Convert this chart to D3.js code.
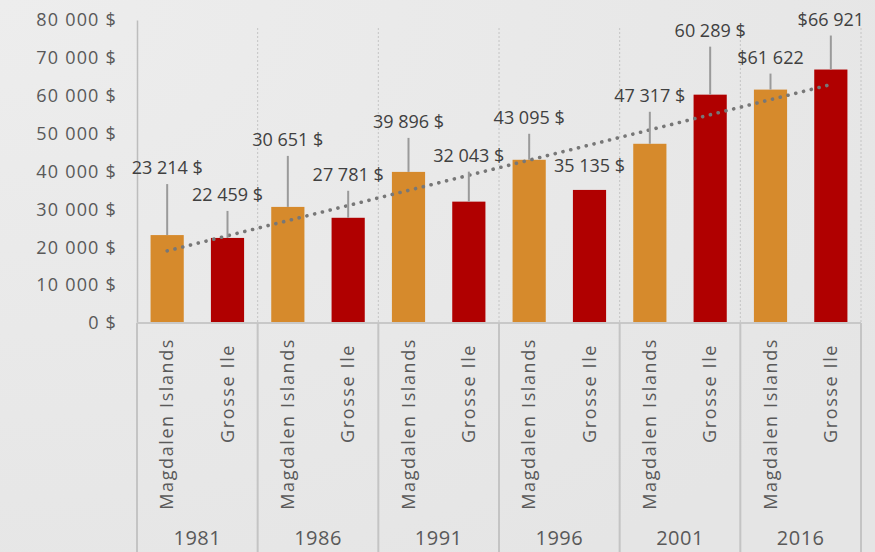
<!DOCTYPE html>
<html>
<head>
<meta charset="utf-8">
<script src="https://cdn.jsdelivr.net/npm/d3@7"></script>
<style>
  html, body { margin: 0; padding: 0; }
  body { width: 875px; height: 552px; overflow: hidden; background: #e8e8e8; }
  text { font-family: "Open Sans", sans-serif; }
</style>
</head>
<body>
<svg id="chart" width="875" height="552"></svg>
<script>
// data
const years = ["1981", "1986", "1991", "1996", "2001", "2016"];
const places = ["Magdalen Islands", "Grosse Ile"];
const magdalen = [23214, 30651, 39896, 43095, 47317, 61622];
const grosseIle = [22459, 27781, 32043, 35135, 60289, 66921];
const magdalenLabels = ["23 214 $", "30 651 $", "39 896 $", "43 095 $", "47 317 $", "$61 622"];
const grosseLabels = ["22 459 $", "27 781 $", "32 043 $", "35 135 $", "60 289 $", "$66 921"];
const yTicks = [0, 10000, 20000, 30000, 40000, 50000, 60000, 70000, 80000];

// callout lift above each bar (px), as placed in the original
const magdalenLift = [67, 67, 50, 42, 48, 32];
const grosseLift = [43, 43, 46, 24, 64, 50];

const ORANGE = "#d68a2c";
const RED = "#b00000";

const width = 875, height = 552;
const margin = {top: 20, left: 137, right: 14, bottom: 229};
const plotW = width - margin.left - margin.right;
const plotH = height - margin.top - margin.bottom;

const svg = d3.select("#chart");

// background, slightly lighter at the top left
const defs = svg.append("defs");
const grad = defs.append("radialGradient").attr("id", "bg")
    .attr("cx", "0%").attr("cy", "0%").attr("r", "120%");
grad.append("stop").attr("offset", "0%").attr("stop-color", "#ededed");
grad.append("stop").attr("offset", "100%").attr("stop-color", "#e5e5e5");
svg.append("rect").attr("width", width).attr("height", height).attr("fill", "url(#bg)");

// flat list of bars: year group, then the two places
let bars = [];
years.forEach(function(yr, i) {
    bars.push({year: yr, place: places[0], value: magdalen[i], label: magdalenLabels[i], lift: magdalenLift[i], color: ORANGE});
    bars.push({year: yr, place: places[1], value: grosseIle[i], label: grosseLabels[i], lift: grosseLift[i], color: RED});
});

const x0 = d3.scaleBand().domain(years).range([0, plotW]);
const x1 = d3.scaleBand().domain(places).range([0, x0.bandwidth()]).paddingInner(0.45).paddingOuter(0.225);
const y = d3.scaleLinear().domain([0, 80000]).range([plotH, 0]);

const g = svg.append("g").attr("transform", "translate(" + margin.left + "," + margin.top + ")");

// dotted vertical separators between year groups
g.append("g").selectAll("line")
    .data(years.slice(1).concat(["end"]))
    .enter().append("line")
    .attr("x1", d => d === "end" ? plotW : x0(d))
    .attr("x2", d => d === "end" ? plotW : x0(d))
    .attr("y1", 8).attr("y2", plotH)
    .attr("stroke", "#c4c4c4").attr("stroke-width", 1)
    .attr("stroke-dasharray", "2 2");

// y axis
const yAxis = g.append("g").call(d3.axisLeft(y).tickValues(yTicks).tickSize(0).tickPadding(20)
    .tickFormat(d => d3.format(",")(d).replace(/,/g, " ") + " $"));
yAxis.select(".domain").attr("stroke", "#bdbdbd").attr("stroke-width", 1.5);
yAxis.selectAll("text").attr("fill", "#595959").style("font-size", "18px").style("letter-spacing", "1.2px");

// bars
g.append("g").selectAll("rect")
    .data(bars)
    .enter().append("rect")
    .attr("x", d => x0(d.year) + x1(d.place))
    .attr("width", x1.bandwidth())
    .attr("y", d => y(d.value))
    .attr("height", d => plotH - y(d.value))
    .attr("fill", d => d.color);

// linear trendline over the twelve bars
const n = bars.length;
const mx = d3.mean(bars, (d, i) => i);
const my = d3.mean(bars, d => d.value);
const slope = d3.sum(bars, (d, i) => (i - mx) * (d.value - my)) / d3.sum(bars, (d, i) => (i - mx) * (i - mx));
const icpt = my - slope * mx;
const barCx = d => x0(d.year) + x1(d.place) + x1.bandwidth() / 2;
g.append("line")
    .attr("x1", barCx(bars[0])).attr("y1", y(icpt))
    .attr("x2", barCx(bars[n - 1]) - 4).attr("y2", y(icpt + slope * (n - 1)))
    .attr("stroke", "#777").attr("stroke-width", 3.6)
    .attr("stroke-linecap", "round").attr("stroke-dasharray", "0.1 7.9");

// callout leader lines and value labels
const callouts = g.append("g").selectAll("g").data(bars).enter().append("g");
callouts.filter(d => d.lift > 30).append("line")
    .attr("x1", barCx).attr("x2", barCx)
    .attr("y1", d => y(d.value))
    .attr("y2", d => y(d.value) - d.lift + 16)
    .attr("stroke", "#9a9a9a").attr("stroke-width", 2);
callouts.append("text")
    .attr("x", barCx)
    .attr("y", d => y(d.value) - d.lift)
    .attr("dy", "0.35em")
    .attr("text-anchor", "middle")
    .attr("fill", "#404040")
    .style("font-size", "18px")
    .text(d => d.label);

// x axis baseline
g.append("line")
    .attr("x1", 0).attr("x2", plotW)
    .attr("y1", plotH).attr("y2", plotH)
    .attr("stroke", "#c8c8c8").attr("stroke-width", 2);

// category table below the plot
const cat = g.append("g").attr("transform", "translate(0," + plotH + ")");
cat.selectAll("line.sep")
    .data(years.concat(["end"]))
    .enter().append("line")
    .attr("class", "sep")
    .attr("x1", d => d === "end" ? plotW : x0(d))
    .attr("x2", d => d === "end" ? plotW : x0(d))
    .attr("y1", 0).attr("y2", margin.bottom)
    .attr("stroke", "#c4c4c4").attr("stroke-width", 2);

cat.selectAll("text.place")
    .data(bars)
    .enter().append("text")
    .attr("class", "place")
    .attr("transform", d => "translate(" + barCx(d) + "," + (d.place === places[0] ? 15 : 21) + ") rotate(-90)")
    .attr("dy", "0.35em")
    .attr("text-anchor", "end")
    .attr("fill", "#595959")
    .style("font-size", "18px")
    .style("letter-spacing", "1.6px")
    .text(d => d.place);

cat.selectAll("text.year")
    .data(years)
    .enter().append("text")
    .attr("class", "year")
    .attr("x", d => x0(d) + x0.bandwidth() / 2)
    .attr("y", 215)
    .attr("dy", "0.35em")
    .attr("text-anchor", "middle")
    .attr("fill", "#595959")
    .style("font-size", "20px")
    .style("letter-spacing", "0.5px")
    .text(d => d);
</script>
</body>
</html>
